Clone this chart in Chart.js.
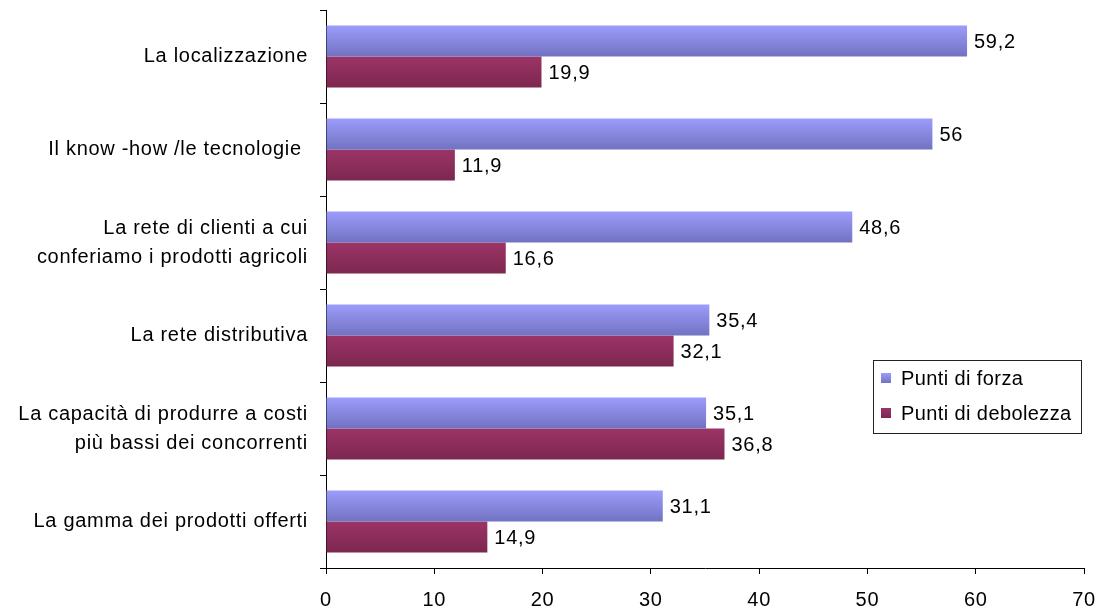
<!DOCTYPE html>
<html>
<head>
<meta charset="utf-8">
<script src="https://cdn.jsdelivr.net/npm/chart.js@4.4.1/dist/chart.umd.min.js"></script>
<style>
  body { margin: 0; background: #fff; }
</style>
</head>
<body>
<canvas id="chart" width="1108" height="613"></canvas>
<script>
const categories = [
  'La localizzazione',
  'Il know -how /le tecnologie ',
  ['La rete di clienti a cui', 'conferiamo i prodotti agricoli'],
  'La rete distributiva',
  ['La capacità di produrre a costi', 'più bassi dei concorrenti'],
  'La gamma dei prodotti offerti'
];
const puntiForza = [59.2, 56, 48.6, 35.4, 35.1, 31.1];
const puntiDebolezza = [19.9, 11.9, 16.6, 32.1, 36.8, 14.9];
const xTicks = { min: 0, max: 70, step: 10 };

const FONT = { family: 'Arial, "Liberation Sans", sans-serif', size: 20 };
const SPACING = '0.7px';

// top/bottom colours of each series gradient
const shades = [
  ['#9c9cfc', '#7272c2'],
  ['#9c3467', '#7c274f']
];

function barGradient(ctx, top, bottom, pair) {
  const g = ctx.createLinearGradient(0, top, 0, bottom);
  g.addColorStop(0, pair[0]);
  g.addColorStop(1, pair[1]);
  return g;
}

const fmt = v => String(v).replace('.', ',');

const textStyle = {
  id: 'textStyle',
  beforeUpdate(chart) { chart.ctx.letterSpacing = SPACING; },
  beforeDraw(chart) { chart.ctx.letterSpacing = SPACING; }
};

const gradientBars = {
  id: 'gradientBars',
  beforeDatasetsDraw(chart) {
    const ctx = chart.ctx;
    chart.data.datasets.forEach((ds, di) => {
      chart.getDatasetMeta(di).data.forEach(el => {
        const { y, height } = el.getProps(['y', 'height'], true);
        const top = y - height / 2;
        el.options = Object.assign({}, el.options, {
          backgroundColor: barGradient(ctx, top, top + height, shades[di])
        });
      });
    });
  }
};

const valueLabels = {
  id: 'valueLabels',
  afterDatasetsDraw(chart) {
    const ctx = chart.ctx;
    ctx.save();
    ctx.font = `${FONT.size}px ${FONT.family}`;
    ctx.fillStyle = '#000';
    ctx.textAlign = 'left';
    ctx.textBaseline = 'middle';
    chart.data.datasets.forEach((ds, di) => {
      chart.getDatasetMeta(di).data.forEach((el, i) => {
        ctx.fillText(fmt(ds.data[i]), el.x + 7, el.y + 1);
      });
    });
    ctx.restore();
  }
};

const boxLegend = {
  id: 'boxLegend',
  afterDraw(chart) {
    const ctx = chart.ctx;
    const x = 873, y = 360, w = 208, h = 73;
    ctx.save();
    ctx.fillStyle = '#fff';
    ctx.fillRect(x, y, w, h);
    ctx.strokeStyle = '#222';
    ctx.lineWidth = 1;
    ctx.strokeRect(x + 0.5, y + 0.5, w, h);
    ctx.font = `${FONT.size}px ${FONT.family}`;
    ctx.textBaseline = 'middle';
    ctx.letterSpacing = '0.4px';
    chart.data.datasets.forEach((ds, di) => {
      const cy = y + 18 + di * 35;
      ctx.fillStyle = barGradient(ctx, cy - 5, cy + 5, shades[di]);
      ctx.fillRect(x + 8, cy - 5, 10, 10);
      ctx.fillStyle = '#000';
      ctx.fillText(ds.label, x + 28, cy + 1);
    });
    ctx.restore();
  }
};

new Chart(document.getElementById('chart'), {
  type: 'bar',
  data: {
    labels: categories,
    datasets: [
      { label: 'Punti di forza', data: puntiForza, backgroundColor: shades[0][1] },
      { label: 'Punti di debolezza', data: puntiDebolezza, backgroundColor: shades[1][1] }
    ]
  },
  options: {
    indexAxis: 'y',
    responsive: false,
    animation: false,
    layout: { padding: { top: 10, right: 24 } },
    datasets: { bar: { categoryPercentage: 0.667, barPercentage: 1, borderWidth: 0 } },
    plugins: { legend: { display: false }, tooltip: { enabled: false } },
    scales: {
      x: {
        min: xTicks.min,
        max: xTicks.max,
        ticks: { stepSize: xTicks.step, color: '#000', font: FONT, padding: 14 },
        grid: { drawOnChartArea: false, tickLength: 6, color: '#000' },
        border: { color: '#000' },
        afterFit: s => { s.height = 45; s.paddingLeft = 0; s.paddingRight = 0; }
      },
      y: {
        ticks: { color: '#000', font: { ...FONT, lineHeight: 1.45 }, padding: 12, autoSkip: false },
        grid: { drawOnChartArea: false, tickLength: 6, color: '#000', offset: true },
        border: { color: '#000' },
        afterFit: s => { s.width = 326; s.paddingTop = 0; s.paddingBottom = 0; }
      }
    }
  },
  plugins: [textStyle, gradientBars, valueLabels, boxLegend]
});
</script>
</body>
</html>
